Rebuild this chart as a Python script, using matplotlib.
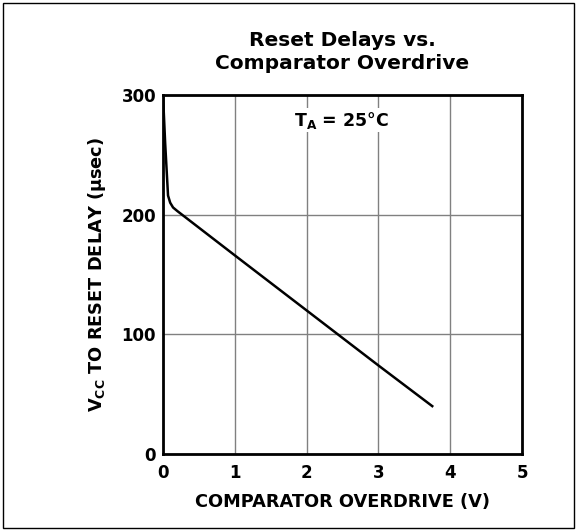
import numpy as np
import matplotlib
matplotlib.use("Agg")
import matplotlib.pyplot as plt
from matplotlib.patches import Rectangle

plt.rcParams['font.family'] = ['DejaVu Sans']
plt.rcParams['font.weight'] = 'bold'
plt.rcParams['mathtext.default'] = 'regular'

# curve
overdrive = [0.0, 0.03, 0.07, 0.10, 0.14, 0.20, 1.0, 2.0, 3.0, 3.75]
delay = [300, 260, 216, 210, 206, 203, 166, 120, 74, 40]

xticks = [0, 1, 2, 3, 4, 5]
yticks = [0, 100, 200, 300]

fig = plt.figure(figsize=(5.78, 5.31), dpi=100)
ax = fig.add_axes([163 / 578, 1 - 454 / 531, 359 / 578, 359 / 531])

ax.plot(overdrive, delay, color='black', lw=1.8, solid_joinstyle='round')

ax.set_xlim(0, 5)
ax.set_ylim(0, 300)
ax.set_xticks(xticks)
ax.set_yticks(yticks)
ax.tick_params(axis='x', length=0, labelsize=12, pad=7)
ax.tick_params(axis='y', length=0, labelsize=12, pad=5)
for lab in ax.get_xticklabels() + ax.get_yticklabels():
    lab.set_fontweight('bold')
ax.grid(True, color='#808080', lw=1.0)
ax.set_axisbelow(True)
for s in ax.spines.values():
    s.set_linewidth(2.0)

ax.set_xlabel('COMPARATOR OVERDRIVE (V)', fontsize=12.8, fontweight='bold', labelpad=8)
ax.set_ylabel(r'V$_{CC}$ TO RESET DELAY ($\mu$sec)', fontsize=12.8, fontweight='bold', labelpad=10)
ax.set_title('Reset Delays vs.\nComparator Overdrive', fontsize=14.5, fontweight='bold',
             pad=19, linespacing=1.25)

ax.text(2.49, 279, r'T$_A$ = 25°C', fontsize=12.5, fontweight='bold', ha='center', va='center',
        bbox=dict(facecolor='white', edgecolor='none', pad=1))

fig.patches.append(Rectangle((3 / 578, 3 / 531), 571 / 578, 525 / 531, transform=fig.transFigure,
                             fill=False, edgecolor='black', lw=1.0))

fig.savefig('out.png', dpi=100)
